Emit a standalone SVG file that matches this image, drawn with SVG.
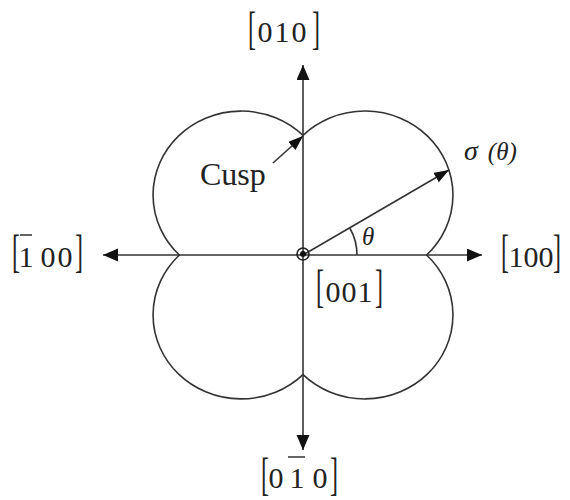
<svg xmlns="http://www.w3.org/2000/svg" width="570" height="500" viewBox="0 0 570 500">
<style>
  .ax { stroke:#333; stroke-width:1.6; fill:none; }
  .lobe { stroke:#333; stroke-width:1.6; fill:none; }
  .dg { font-family:"Liberation Serif","Times New Roman",serif; font-size:30px; fill:#222; text-anchor:middle; }
  .brl { font-family:"Liberation Serif","Times New Roman",serif; font-size:24px; fill:#222; text-anchor:start; }
  .brr { font-family:"Liberation Serif","Times New Roman",serif; font-size:24px; fill:#222; text-anchor:end; }
  .lbl { font-family:"Liberation Serif","Times New Roman",serif; fill:#222; }
  .ob { stroke:#222; stroke-width:1.4; }
</style>
<defs>
  <marker id="ah" markerUnits="userSpaceOnUse" markerWidth="16" markerHeight="14" refX="15" refY="6.5" orient="auto">
    <path d="M0,0 L15,6.5 L0,13 z" fill="#111"/>
  </marker>
  <marker id="ahs" markerUnits="userSpaceOnUse" markerWidth="16" markerHeight="12" refX="15" refY="5.5" orient="auto">
    <path d="M0,0 L15,5.5 L0,11 z" fill="#111"/>
  </marker>
</defs>

<g id="outline">
  <path class="lobe" d="M303,135.4 A88,84 0 1 1 426.6,255 A88,84 0 1 1 303,374.6 A88,84 0 1 1 179.4,255 A88,84 0 1 1 303,135.4 Z"/>
</g>

<g id="connectors">
  <line class="ax" x1="303" y1="255" x2="482" y2="255" marker-end="url(#ah)"/>
  <line class="ax" x1="303" y1="255" x2="103" y2="255" marker-end="url(#ah)"/>
  <line class="ax" x1="303" y1="255" x2="303" y2="65" marker-end="url(#ah)"/>
  <line class="ax" x1="303" y1="255" x2="303" y2="450" marker-end="url(#ah)"/>
  <line class="ax" x1="303" y1="255" x2="449" y2="170" marker-end="url(#ahs)"/>
  <line class="ax" x1="273" y1="163" x2="303" y2="136" marker-end="url(#ahs)"/>
  <path class="ax" d="M357,255 A54,54 0 0 0 349.8,228"/>
</g>

<g id="origin">
  <circle cx="303" cy="254" r="6" fill="none" stroke="#222" stroke-width="1.6"/>
  <circle cx="303" cy="254" r="3" fill="#111"/>
</g>

<g id="label-010">
  <text class="brl" transform="translate(248,44) scale(1,1.95)">[</text>
  <text class="dg" x="265 282 299" y="42">010</text>
  <text class="brr" transform="translate(320,44) scale(1,1.95)">]</text>
</g>

<g id="label-100">
  <text class="brl" transform="translate(501,267) scale(1,1.95)">[</text>
  <text class="dg" x="516 531 546" y="267">100</text>
  <text class="brr" transform="translate(561,267) scale(1,1.95)">]</text>
</g>

<g id="label-m100">
  <text class="brl" transform="translate(12,267) scale(1,1.95)">[</text>
  <text class="dg" x="26 48 65" y="267">100</text>
  <line class="ob" x1="20" y1="235" x2="32" y2="235"/>
  <text class="brr" transform="translate(83,267) scale(1,1.95)">]</text>
</g>

<g id="label-001">
  <text class="brl" transform="translate(316,302) scale(1,1.95)">[</text>
  <text class="dg" x="333 349 365" y="302">001</text>
  <text class="brr" transform="translate(383,302) scale(1,1.95)">]</text>
</g>

<g id="label-0m10">
  <text class="brl" transform="translate(261,490) scale(1,1.95)">[</text>
  <text class="dg" x="276 297 320" y="488">010</text>
  <line class="ob" x1="288" y1="457" x2="305" y2="457"/>
  <text class="brr" transform="translate(338,490) scale(1,1.95)">]</text>
</g>

<g id="label-cusp">
  <text class="lbl" x="200" y="185" font-size="32">Cusp</text>
</g>

<g id="label-sigma">
  <text class="lbl" x="464" y="160" font-style="italic"><tspan font-size="28">σ</tspan><tspan font-size="25" dx="10">(θ)</tspan></text>
</g>

<g id="label-theta">
  <text class="lbl" x="362" y="245" font-size="25" font-style="italic">θ</text>
</g>
</svg>
